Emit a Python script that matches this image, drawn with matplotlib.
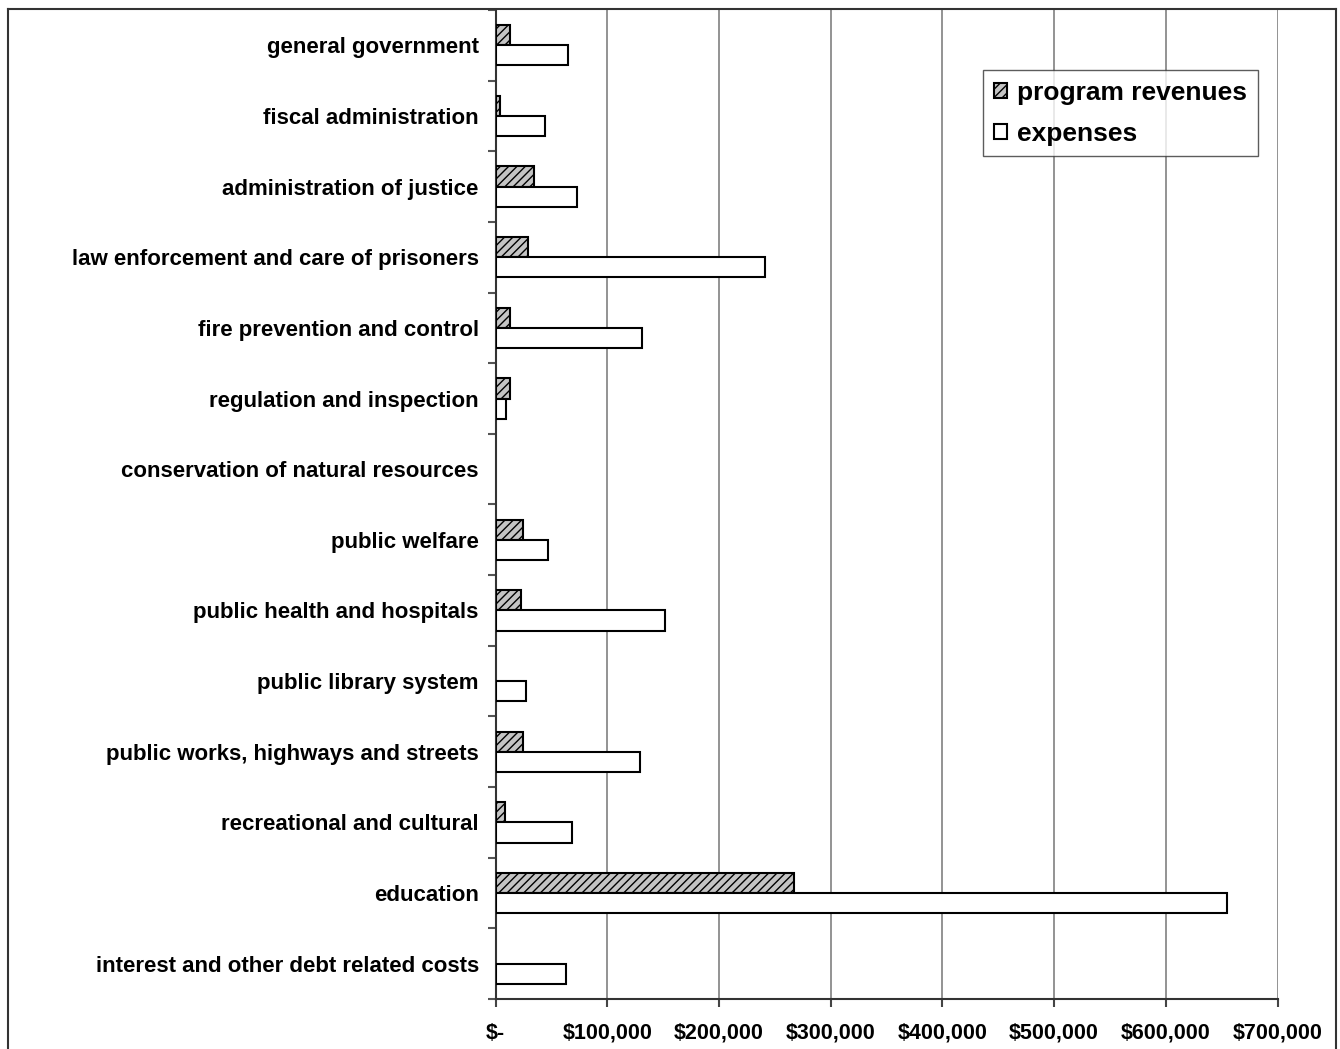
import matplotlib
matplotlib.use("Agg")
import matplotlib.pyplot as plt
import numpy as np
from matplotlib.lines import Line2D
from matplotlib.ticker import FuncFormatter, MultipleLocator

plt.rcParams['font.family'] = ['Liberation Sans', 'DejaVu Sans']
plt.rcParams['font.weight'] = 'bold'
plt.rcParams['hatch.linewidth'] = 1.0

categories = [
    "general government",
    "fiscal administration",
    "administration of justice",
    "law enforcement and care of prisoners",
    "fire prevention and control",
    "regulation and inspection",
    "conservation of natural resources",
    "public welfare",
    "public health and hospitals",
    "public library system",
    "public works, highways and streets",
    "recreational and cultural",
    "education",
    "interest and other debt related costs",
]

program_revenues = [12800, 3800, 34300, 28900, 12800, 12800, 0,
                    25000, 23200, 0, 25000, 8900, 267000, 0]
expenses = [64700, 44700, 73300, 241500, 130900, 9200, 0,
            47000, 152000, 27100, 129300, 68000, 655000, 62900]

x_ticks = [0, 100000, 200000, 300000, 400000, 500000, 600000, 700000]

fig = plt.figure(figsize=(13.4, 10.49), dpi=100)
ax = fig.add_axes([0.3698, 0.0477, 0.9534 - 0.3698, 0.9905 - 0.0477])

y = np.arange(len(categories))
h = 1 / 3.5


def edge_widths(values):
    # empty bars get no outline so nothing is drawn for them
    return [1.5 if v else 0 for v in values]


ax.barh(y - h / 2, program_revenues, height=h, facecolor='#c4c4c4',
        edgecolor='black', linewidth=edge_widths(program_revenues),
        hatch='////', zorder=3, label='program revenues')
ax.barh(y + h / 2, expenses, height=h, facecolor='white',
        edgecolor='black', linewidth=edge_widths(expenses), zorder=3,
        label='expenses')

ax.set_xlim(0, 700000)
ax.set_ylim(len(categories) - 0.5, -0.5)

ax.set_xticks(x_ticks)
ax.xaxis.set_major_formatter(FuncFormatter(
    lambda v, p: "$-" if v == 0 else "${:,.0f}".format(v)))
ax.set_yticks(y)
ax.set_yticklabels(categories)
ax.yaxis.set_minor_locator(MultipleLocator(1, offset=0.5))

ax.tick_params(axis='y', which='major', length=0, pad=12, labelsize=16)
ax.tick_params(axis='y', which='minor', length=6, width=1.5,
               color='#555555', direction='out')
ax.tick_params(axis='x', which='major', length=6, width=1.5,
               color='#444444', direction='out', pad=11, labelsize=15.5)

ax.grid(axis='x', color='#808080', linewidth=1.2, zorder=0)
ax.set_axisbelow(True)

for s in ('top', 'right'):
    ax.spines[s].set_visible(False)
for s in ('left', 'bottom'):
    ax.spines[s].set_color('#333333')
    ax.spines[s].set_linewidth(1.5)

leg = ax.legend(loc='upper left', bbox_to_anchor=(0.7336, 0.9333),
                bbox_transform=fig.transFigure, fontsize=19, frameon=True,
                fancybox=False, edgecolor='#333333', handlelength=0.5,
                handleheight=0.5, handletextpad=0.4, borderpad=0.4,
                labelspacing=0.65, borderaxespad=0)
leg.get_frame().set_linewidth(1.0)
for hnd in leg.legend_handles:
    hnd.set_linewidth(1.5)

# outer chart frame (open at the bottom)
frame_kw = dict(color='#333333', linewidth=1.5, transform=fig.transFigure)
fig.add_artist(Line2D([8 / 1340, 8 / 1340], [-0.01, 1 - 9 / 1049], **frame_kw))
fig.add_artist(Line2D([8 / 1340, 1336 / 1340], [1 - 9 / 1049, 1 - 9 / 1049], **frame_kw))
fig.add_artist(Line2D([1336 / 1340, 1336 / 1340], [-0.01, 1 - 9 / 1049], **frame_kw))

fig.savefig("out.png", dpi=100)
